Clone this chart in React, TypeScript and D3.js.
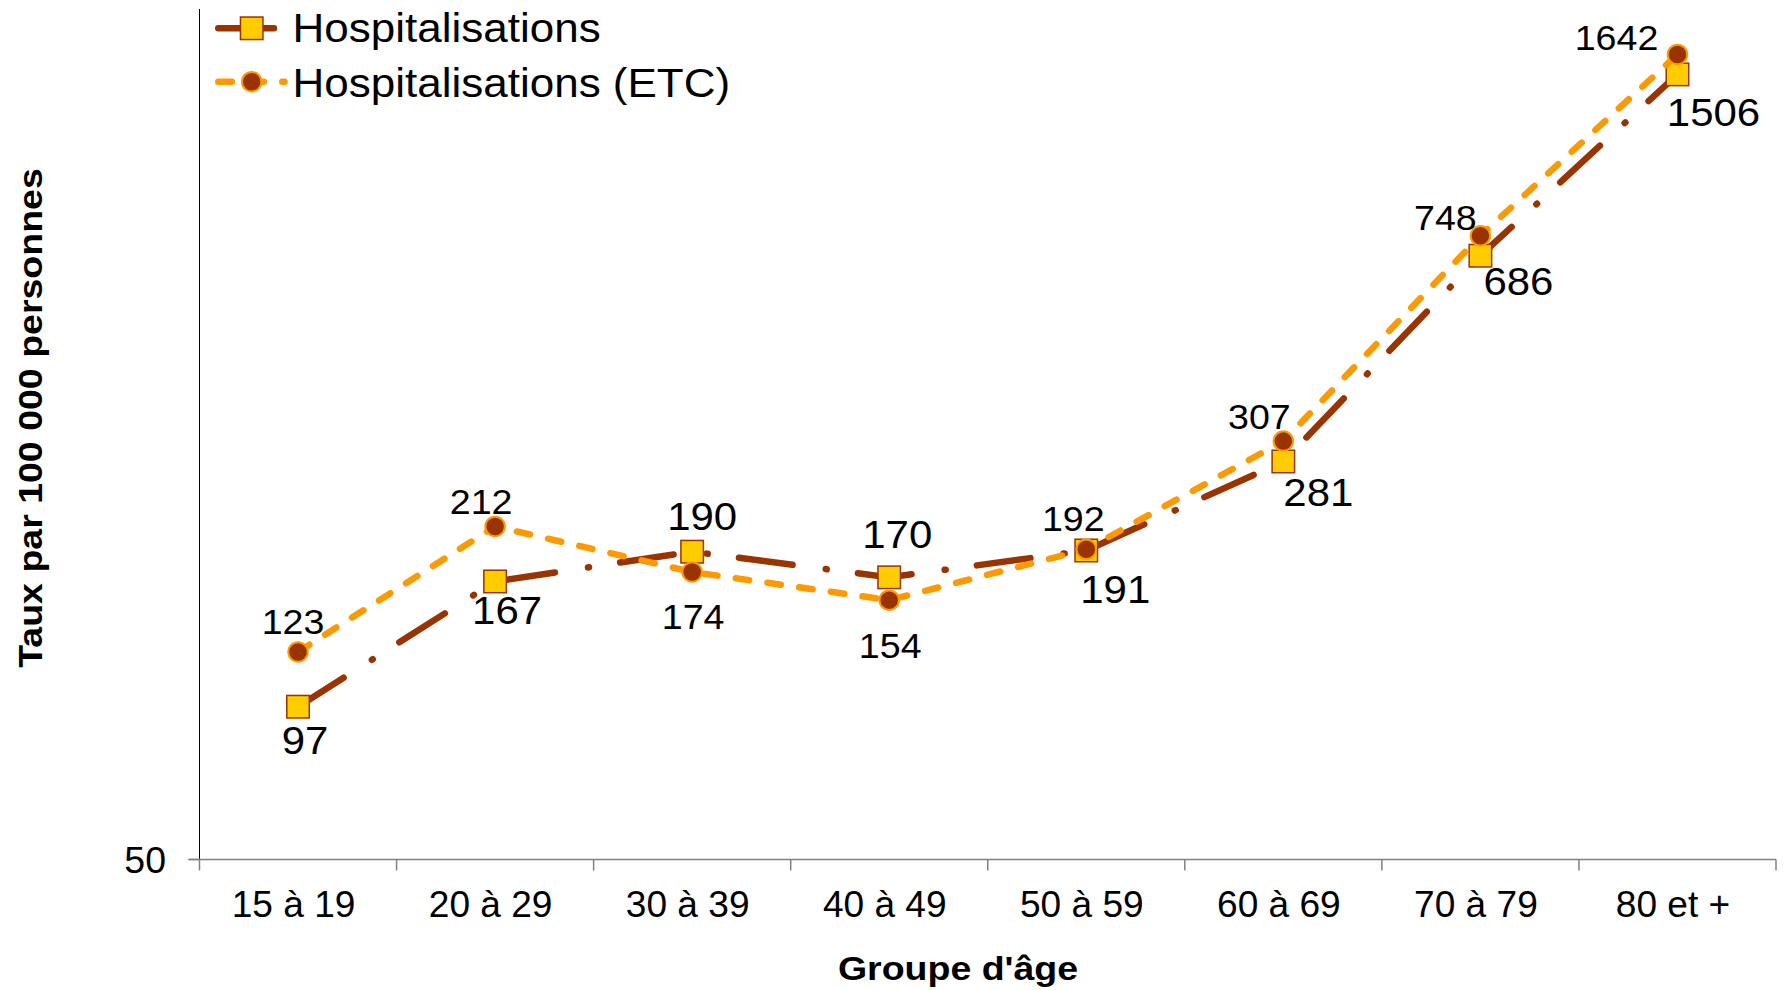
import { useEffect, useRef } from 'react';
import * as d3 from 'd3';

const ageGroups = ['15 à 19', '20 à 29', '30 à 39', '40 à 49', '50 à 59', '60 à 69', '70 à 79', '80 et +'];
const hospRates = [97, 167, 190, 170, 191, 281, 686, 1506];
const etcRates = [123, 212, 174, 154, 192, 307, 748, 1642];
const yTicks = [50];
const seriesNames = ['Hospitalisations', 'Hospitalisations (ETC)'];

// where each value label sits, [dx, dy] from the marker centre
const hospLabelOffsets = [[7, 47], [12, 43], [10, -22], [8, -29], [29, 53], [35, 45], [38, 39], [36, 52]];
const etcLabelOffsets = [[-5, -18], [-14, -12], [1, 57], [1, 58], [-13, -18], [-24, -12], [-35, -6], [-61, -4]];

const WIDTH = 1785;
const HEIGHT = 990;
const FONT = '"Liberation Sans", Arial, sans-serif';
const STRETCH = 1.09; // text in the original is a bit wider than Arial
const BROWN = '#993300';
const ORANGE = '#FF9900';
const YELLOW = '#FFCC00';
const HOSP_DASH = '54 33.5 1 31.5';
const ETC_DASH = '13.5 18.5';

type G = d3.Selection<SVGGElement, unknown, null, undefined>;

function addText(
	g: G,
	str: string,
	x: number,
	y: number,
	size: number,
	anchor = 'middle',
	weight = 'normal',
	rotate = 0,
	stretch = STRETCH
) {
	g.append('text')
		.attr('transform', `translate(${x},${y})${rotate ? ` rotate(${rotate})` : ''} scale(${stretch},1)`)
		.attr('text-anchor', anchor)
		.style('font-family', FONT)
		.style('font-size', `${size}px`)
		.style('font-weight', weight)
		.attr('fill', '#000')
		.text(str);
}

function addSquare(g: G, cx: number, cy: number) {
	g.append('rect')
		.attr('x', cx - 11.25)
		.attr('y', cy - 11.25)
		.attr('width', 22.5)
		.attr('height', 22.5)
		.attr('fill', YELLOW)
		.attr('stroke', BROWN)
		.attr('stroke-width', 1.5);
}

function addDot(g: G, cx: number, cy: number) {
	g.append('circle')
		.attr('cx', cx)
		.attr('cy', cy)
		.attr('r', 9.75)
		.attr('fill', BROWN)
		.attr('stroke', ORANGE)
		.attr('stroke-width', 2);
}

const RateChart: React.FC = () => {
	const ref = useRef<SVGSVGElement>(null);

	useEffect(() => {
		if (!ref.current) return;
		const svg = d3.select(ref.current);
		svg.selectAll('*').remove();

		const left = 199.5;
		const right = 1776;
		const top = 9;
		const bottom = 859.5;

		const x = d3.scaleBand<string>().domain(ageGroups).range([left, right]);
		const y = d3.scaleLog().domain([50, 2000]).range([bottom, top]);
		const cx = (i: number) => (x(ageGroups[i]) ?? 0) + x.bandwidth() / 2;

		const g = svg.append('g') as unknown as G;

		// y axis
		g.append('line')
			.attr('x1', left).attr('x2', left)
			.attr('y1', top).attr('y2', bottom)
			.attr('stroke', '#000').attr('stroke-width', 1);
		yTicks.forEach((t) => {
			g.append('line')
				.attr('x1', left - 11).attr('x2', left)
				.attr('y1', y(t)).attr('y2', y(t))
				.attr('stroke', '#808080').attr('stroke-width', 1.5);
			addText(g, String(t), 166, y(t) + 13, 36, 'end', 'normal', 0, 1.04);
		});

		// x axis
		g.append('line')
			.attr('x1', left - 11).attr('x2', right)
			.attr('y1', bottom).attr('y2', bottom)
			.attr('stroke', '#808080').attr('stroke-width', 1.5);
		const edges = ageGroups.map((c) => x(c) ?? 0).concat(right);
		edges.forEach((ex) => {
			g.append('line')
				.attr('x1', ex).attr('x2', ex)
				.attr('y1', bottom).attr('y2', bottom + 11)
				.attr('stroke', '#808080').attr('stroke-width', 1.5);
		});
		ageGroups.forEach((c, i) => addText(g, c, cx(i) - 4.5, 917.3, 36, 'middle', 'normal', 0, 1.03));

		addText(g, "Groupe d'âge", 958, 980, 33.5, 'middle', 'bold', 0, 1.12);
		addText(g, 'Taux par 100 000 personnes', 42, 418, 33.5, 'middle', 'bold', -90, 1.12);

		const line = d3
			.line<number>()
			.x((_, i) => cx(i))
			.y((d) => y(d));

		// Hospitalisations
		g.append('path')
			.attr('d', line(hospRates) ?? '')
			.attr('fill', 'none')
			.attr('stroke', BROWN)
			.attr('stroke-width', 6.5)
			.attr('stroke-dasharray', HOSP_DASH)
			.attr('stroke-linecap', 'round')
			.attr('stroke-linejoin', 'round');
		hospRates.forEach((v, i) => addSquare(g, cx(i), y(v)));

		// Hospitalisations (ETC)
		g.append('path')
			.attr('d', line(etcRates) ?? '')
			.attr('fill', 'none')
			.attr('stroke', ORANGE)
			.attr('stroke-width', 6.5)
			.attr('stroke-dasharray', ETC_DASH)
			.attr('stroke-linecap', 'round')
			.attr('stroke-linejoin', 'round');
		etcRates.forEach((v, i) => addDot(g, cx(i), y(v)));

		// value labels
		hospRates.forEach((v, i) => {
			const [dx, dy] = hospLabelOffsets[i];
			addText(g, String(v), cx(i) + dx, y(v) + dy, 38.5);
		});
		etcRates.forEach((v, i) => {
			const [dx, dy] = etcLabelOffsets[i];
			addText(g, String(v), cx(i) + dx, y(v) + dy, 34.5);
		});

		// legend
		g.append('line')
			.attr('x1', 218.3).attr('x2', 274)
			.attr('y1', 28.3).attr('y2', 28.3)
			.attr('stroke', BROWN).attr('stroke-width', 6.5)
			.attr('stroke-linecap', 'round');
		addSquare(g, 251.7, 28.3);
		addText(g, seriesNames[0], 292.6, 42.3, 40, 'start', 'normal', 0, 1.1);

		g.append('line')
			.attr('x1', 218.3).attr('x2', 284.5)
			.attr('y1', 81.7).attr('y2', 81.7)
			.attr('stroke', ORANGE).attr('stroke-width', 6.5)
			.attr('stroke-dasharray', ETC_DASH)
			.attr('stroke-linecap', 'round');
		addDot(g, 251.7, 81.7);
		addText(g, seriesNames[1], 292.6, 97.3, 40, 'start', 'normal', 0, 1.1);
	}, []);

	return (
		<svg
			ref={ref}
			width={WIDTH}
			height={HEIGHT}
			style={{ position: 'absolute', left: 0, top: 0, background: '#fff' }}
		></svg>
	);
};

export default function App() {
	return <RateChart />;
}
